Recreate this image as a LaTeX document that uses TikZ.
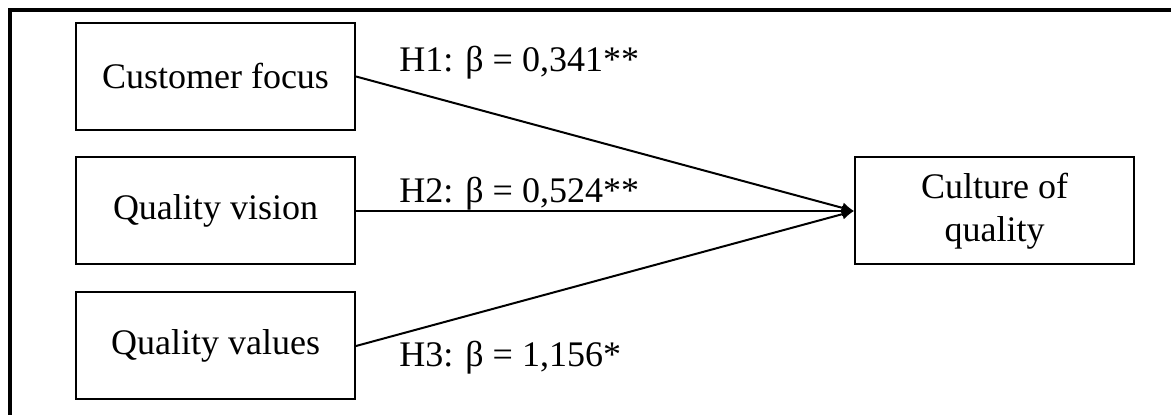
\documentclass[tikz,border=0pt]{standalone}
\usepackage{fontspec}
\setmainfont{Liberation Serif}
\usetikzlibrary{arrows.meta}
\begin{document}
\begin{tikzpicture}[>={Latex[length=6pt,width=5.5pt]},x=0.5pt,y=-0.5pt,
    every node/.style={font=\fontsize{18}{21.5}\selectfont},
    box/.style={draw,line width=1pt,minimum width=139.5pt,minimum height=53.5pt,align=center,inner sep=0pt},
    lab/.style={anchor=base west,inner sep=0pt}]
    \useasboundingbox (0,0) rectangle (1171,415);
    \draw[line width=2pt](10,415)--(10,10)--(1171,10);
    % boxes
    \node[box](cf) at (215.5,76.5){Customer focus};
    \node[box](qv) at (215.5,211){Quality vision};
    \node[box](qs) at (215.5,346){Quality values};
    \node[box](cq) at (994.5,211){Culture of\\quality};
    % paths
    \draw[->,line width=1pt](cf.east)--(cq.west);
    \draw[->,line width=1pt](qv.east)--(cq.west);
    \draw[->,line width=1pt](qs.east)--(cq.west);
    \node[lab](h1) at (399,72){H1: β = 0,341**};
    \node[lab](h2) at (399,203){H2: β = 0,524**};
    \node[lab](h3) at (399,367){H3: β = 1,156*};
\end{tikzpicture}
\end{document}
